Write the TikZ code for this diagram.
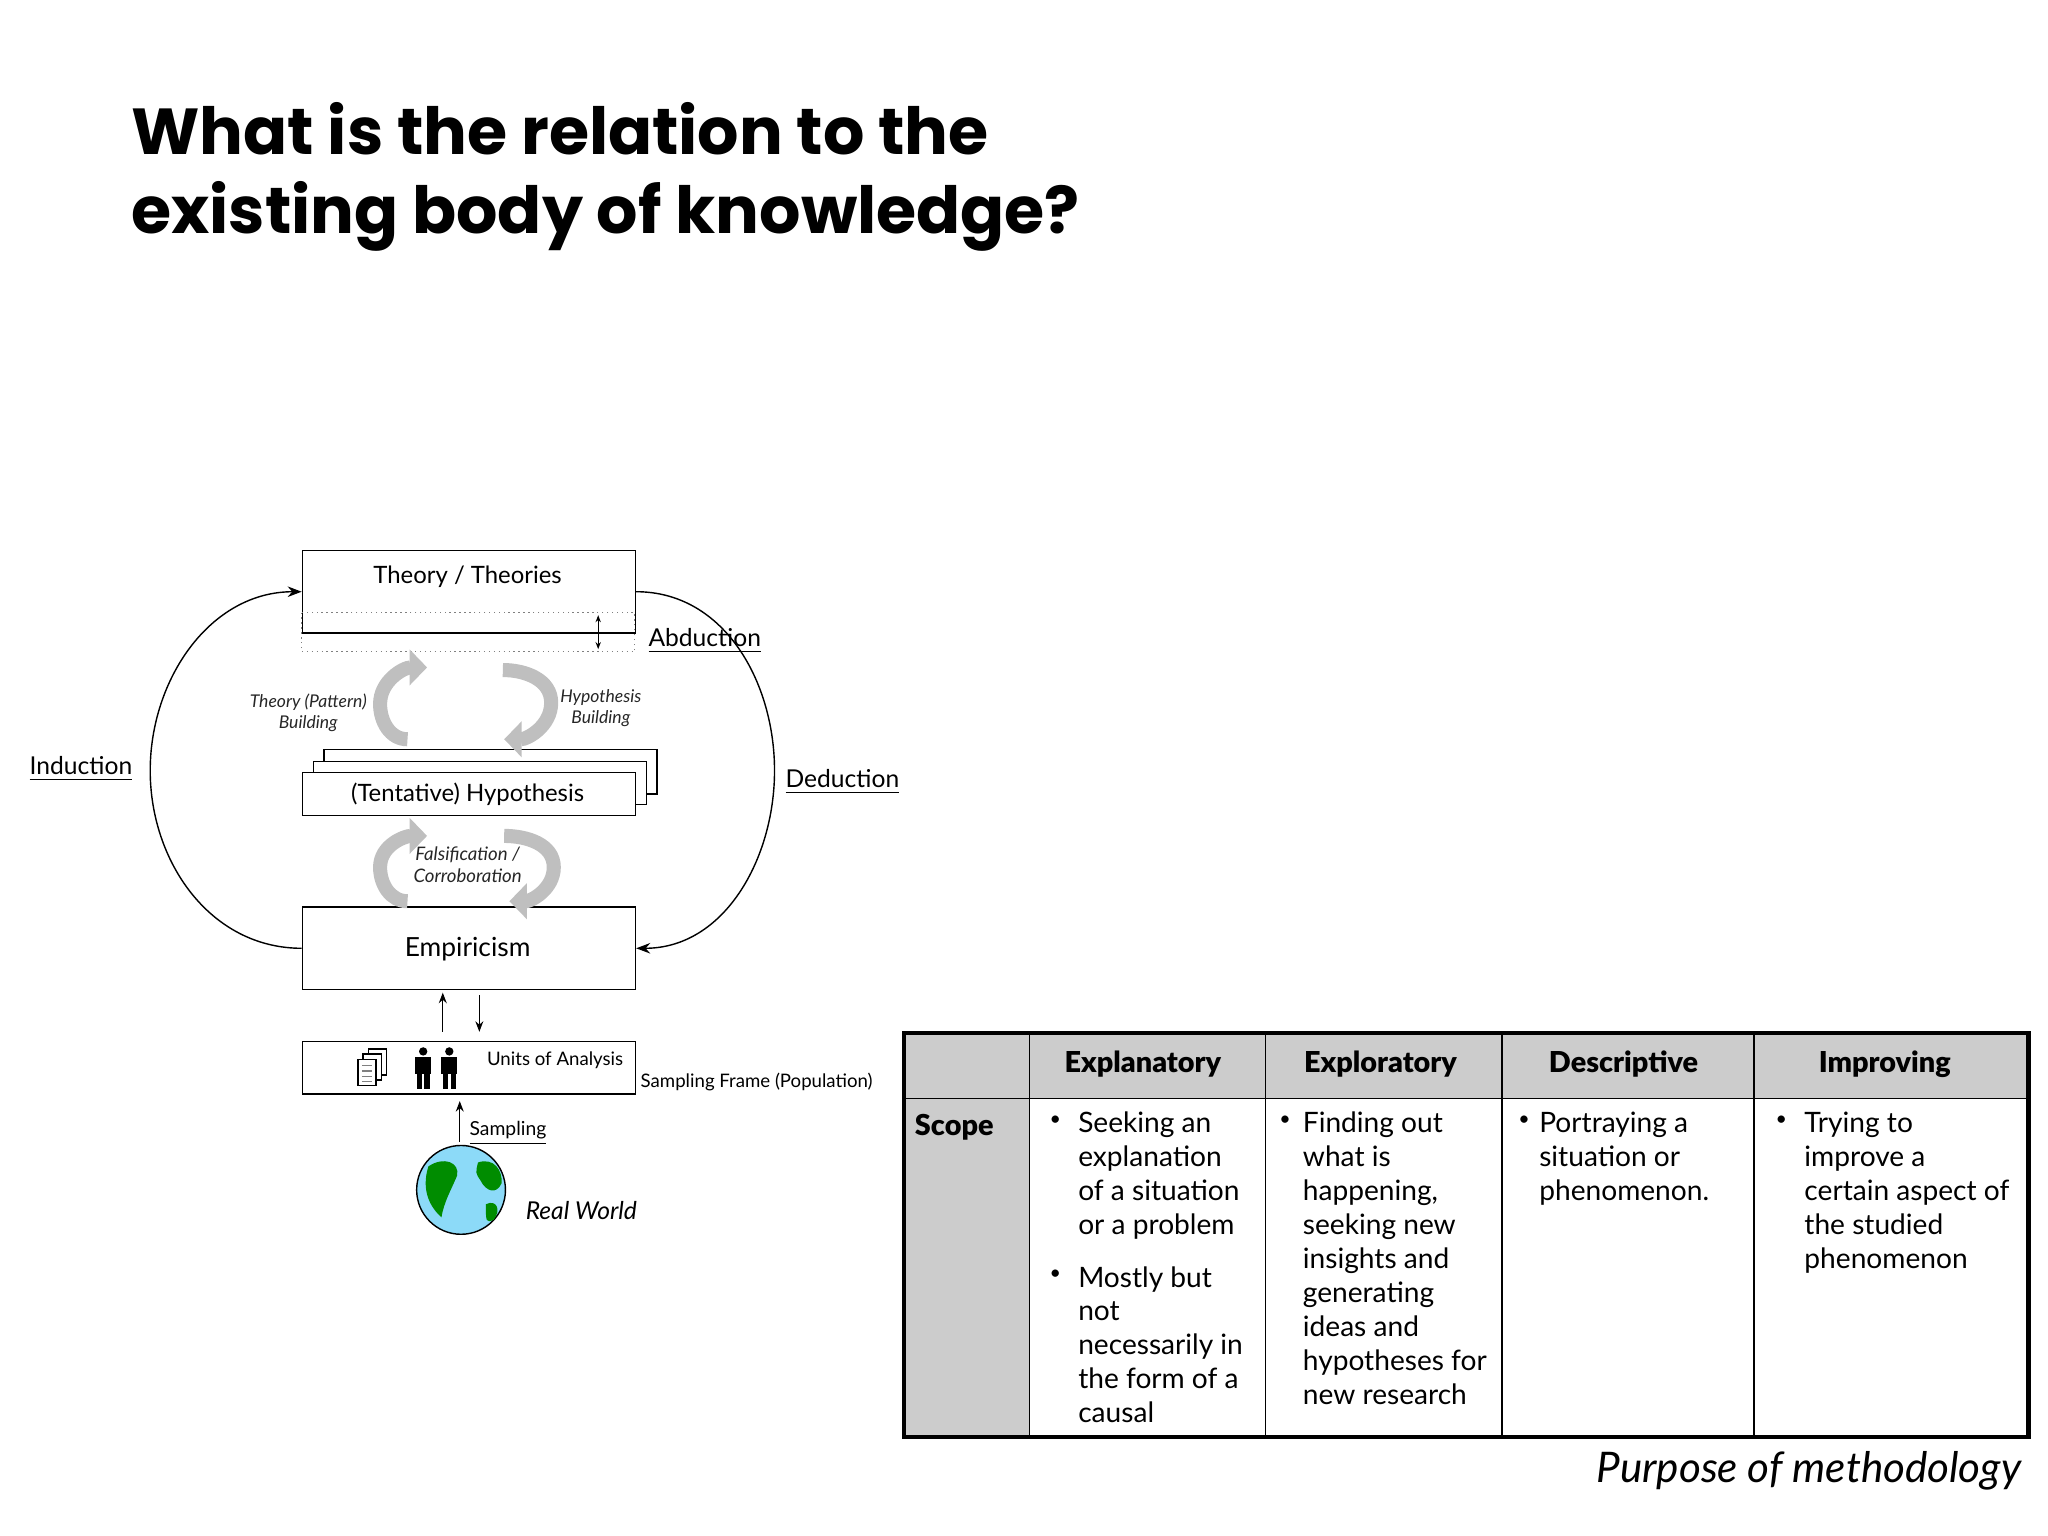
\documentclass[tikz,border=0pt]{standalone}
\usepackage{fontspec}
\setmainfont{Lato}
\usetikzlibrary{arrows.meta}
\tikzset{box/.style={draw,thin,fill=white}}
\tikzset{lbl/.style={font=\fontsize{6.8}{8}\selectfont}}
\tikzset{small/.style={font=\fontsize{5}{6}\itshape\selectfont,align=center,gray!30!black}}
\tikzset{uline/.style={font=\fontsize{7}{8}\selectfont,inner sep=0}}
\tikzset{garrow/.style={gray!50,line width=4pt,-{Triangle[width=10pt,length=5pt]}}}
\tikzset{tbl/.style={font=\fontsize{8}{9.66}\selectfont,align=left,inner sep=0,anchor=north west}}
\tikzset{hdr/.style={font=\fontsize{8.2}{10}\fontspec{Lato Black}\selectfont}}
\newcommand{\ul}[1]{\underline{#1}}
\begin{document}
\begin{tikzpicture}[x=0.01306cm,y=-0.01306cm]
	\useasboundingbox (0,0) rectangle (1568,1176);

	% title
	\node[anchor=north west,align=left,inner sep=0,font=\fontsize{18.5}{22.3}\fontspec{Poppins Bold}\selectfont] (title) at (100,78)
		{What is the relation to the\\existing body of knowledge?};

	% theory box with dotted extension
	\node[box,minimum width=255*0.01306cm,minimum height=63*0.01306cm,anchor=north west,inner sep=0] (theory) at (231,421) {};
	\draw[densely dotted,gray] (231,469) rectangle (486,499);
	\node[lbl,anchor=base] at (358,447) {Theory / Theories};
	\coordinate (abdA) at (458,471);
	\coordinate (abdB) at (458,497);
	\draw[{Stealth[length=2pt]}-{Stealth[length=2pt]},thin] (abdA) -- (abdB);
	\node[uline,anchor=base west] (abd) at (496,495) {\ul{Abduction}};

	% hypothesis stack
	\draw[box] (248,574) rectangle (503,608);
	\draw[box] (240,583) rectangle (495,616);
	\node[box,minimum width=255*0.01306cm,minimum height=33*0.01306cm,anchor=north west,inner sep=0] (hyp) at (231,591) {};
	\node[lbl,anchor=base] at (358,614) {(Tentative) Hypothesis};

	% empiricism
	\node[box,minimum width=255*0.01306cm,minimum height=63*0.01306cm,anchor=north west,inner sep=0] (emp) at (231,694) {};
	\node[lbl,font=\fontsize{7.5}{9}\selectfont,anchor=base] at (358,732) {Empiricism};

	% induction / deduction loops
	\coordinate (indM) at (115,590);
	\coordinate (dedM) at (593,590);
	\draw[-{Stealth[length=4pt]}] (emp.west) to[out=180,in=-90] (indM) to[out=90,in=180] (theory.west);
	\draw[-{Stealth[length=4pt]}] (theory.east) to[out=0,in=90] (dedM) to[out=-90,in=0] (emp.east);
	\node[uline,anchor=base] (ind) at (62,593) {\ul{Induction}};
	\node[uline,anchor=base] (ded) at (645,603) {\ul{Deduction}};

	% gray cycle arrows
	\draw[garrow] (312,566) to[out=180,in=-90] (291,539) to[out=90,in=180] (327,511);
	\draw[garrow] (385,513) to[out=0,in=90] (422,538) to[out=-90,in=0] (386,566);
	\draw[garrow] (312,690) to[out=180,in=-90] (291,664) to[out=90,in=180] (327,640);
	\draw[garrow] (386,640) to[out=0,in=90] (424,664) to[out=-90,in=0] (390,690);
	\node[small] (tpb) at (236,546) {Theory (Pattern)\\Building};
	\node[small] (hb) at (460,542) {Hypothesis\\Building};
	\node[small,font=\fontsize{5.3}{6.4}\itshape\selectfont] (fc) at (358,662) {Falsification /\\Corroboration};

	% units of analysis
	\node[box,minimum width=255*0.01306cm,minimum height=40*0.01306cm,anchor=north west,inner sep=0] (units) at (231,797) {};
	\node[font=\fontsize{5.3}{6}\selectfont,anchor=base] at (425,816) {Units of Analysis};
	\node[font=\fontsize{5.3}{6}\selectfont,anchor=base west,inner sep=0] (frame) at (490,833) {Sampling Frame (Population)};
	\coordinate (upA) at (339,790);
	\coordinate (upB) at (339,760);
	\coordinate (dnA) at (367,762);
	\coordinate (dnB) at (367,790);
	\draw[-{Stealth[length=3pt]}] (upA) -- (upB);
	\draw[-{Stealth[length=3pt]}] (dnA) -- (dnB);
	% documents icon
	\foreach \d in {0,4,8}
		\draw[fill=white] (282-\d,803+\d) rectangle (296-\d,823+\d);
	\foreach \l in {816,820,824,828}
		\draw[gray] (277,\l) -- (285,\l);
	% people icon
	\foreach \p in {324,344}{
		\fill (\p,805) circle (3.2);
		\fill (\p-6,809) rectangle (\p+6,822);
		\fill (\p-5,821) rectangle (\p-1,834);
		\fill (\p+1,821) rectangle (\p+5,834);
	}

	% sampling and globe
	\node[circle,draw,fill=cyan!45!white,minimum size=68*0.01306cm,inner sep=0] (globe) at (353,911) {};
	\fill[green!55!black] (328,893) .. controls (340,885) and (352,890) .. (350,900) .. controls (345,912) and (340,920) .. (338,932) .. controls (330,925) and (322,912) .. (328,893);
	\fill[green!55!black] (366,890) .. controls (378,886) and (385,896) .. (384,906) .. controls (380,915) and (372,912) .. (368,904) .. controls (364,898) .. (366,890);
	\fill[green!55!black] (372,922) .. controls (380,918) and (384,926) .. (378,934) .. controls (372,936) .. (372,922);
	\coordinate (samp) at (352,843);
	\draw[-{Stealth[length=3pt]}] (globe.north) ++(-1,-2) coordinate (gtop) -- (samp);
	\node[font=\fontsize{5.5}{6.5}\selectfont,anchor=base west,inner sep=0] (sampl) at (359,869) {\ul{Sampling}};
	\node[font=\fontsize{7}{8}\itshape\selectfont,anchor=base west,inner sep=0] (rw) at (402,934) {Real World};

	% table
	\fill[gray!40] (692,791) rectangle (1553,841);
	\fill[gray!40] (692,841) rectangle (788,1100);
	\foreach \c in {788,969,1150,1343}
		\draw[thin] (\c,791) -- (\c,1100);
	\draw[thin] (692,841) -- (1553,841);
	\draw[line width=1.2pt] (692,791) rectangle (1553,1100);
	\node[hdr] at (875,815) {Explanatory};
	\node[hdr] at (1057,815) {Exploratory};
	\node[hdr] at (1243,815) {Descriptive};
	\node[hdr] at (1443,815) {Improving};
	\node[hdr,anchor=base west,inner sep=0] at (700,869) {Scope};
	\foreach \bx/\by in {803/854,803/972,979/854,1162/854,1359/854}
		\node[tbl] at (\bx,\by) {\scalebox{0.7}{\textbullet}};
	\node[tbl] at (825,851) {Seeking an\\explanation\\of a situation\\or a problem};
	\node[tbl] at (825,969) {Mostly but\\not\\necessarily in\\the form of a\\causal};
	\node[tbl] at (997,851) {Finding out\\what is\\happening,\\seeking new\\insights and\\generating\\ideas and\\hypotheses for\\new research};
	\node[tbl] at (1178,851) {Portraying a\\situation or\\phenomenon.};
	\node[tbl] at (1381,851) {Trying to\\improve a\\certain aspect of\\the studied\\phenomenon};
	\node[anchor=base east,inner sep=0,font=\fontsize{12}{14}\itshape\selectfont] (cap) at (1548,1135) {Purpose of methodology};
\end{tikzpicture}
\end{document}
